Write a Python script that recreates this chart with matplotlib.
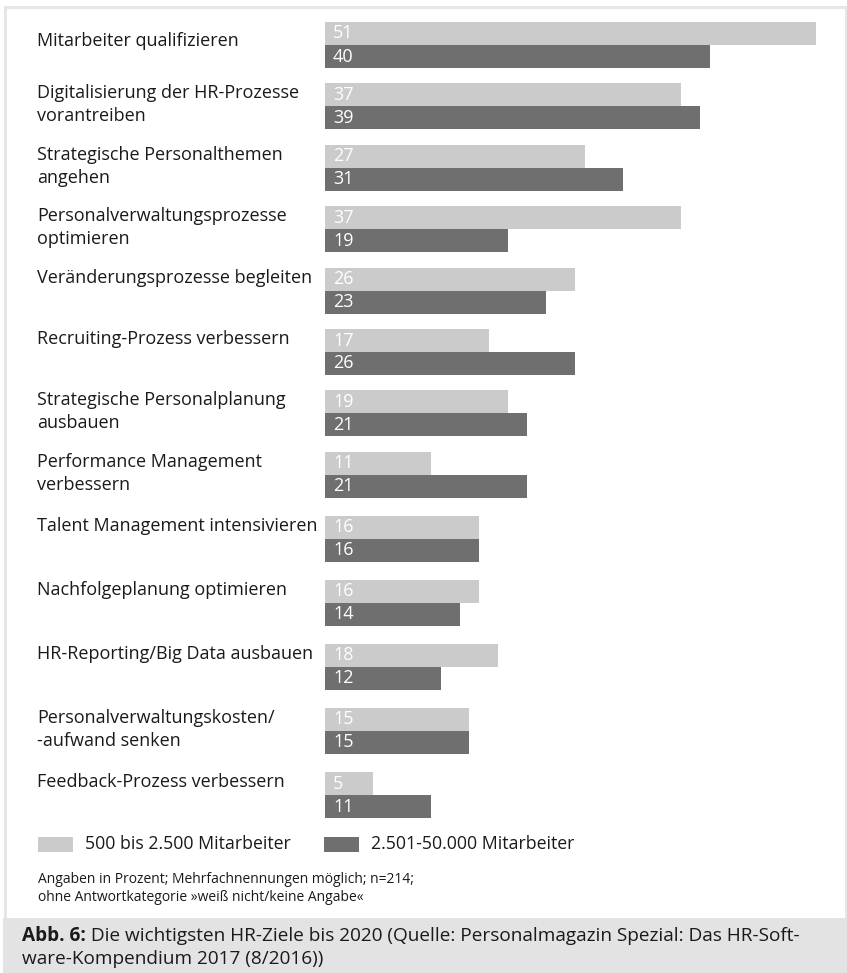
import numpy as np
import matplotlib
matplotlib.use('Agg')
import matplotlib.pyplot as plt
from matplotlib.patches import Rectangle
from matplotlib.transforms import Affine2D

# Daten
ziele = ['Mitarbeiter qualifizieren',
         'Digitalisierung der HR-Prozesse\nvorantreiben',
         'Strategische Personalthemen\nangehen',
         'Personalverwaltungsprozesse\noptimieren',
         'Veränderungsprozesse begleiten',
         'Recruiting-Prozess verbessern',
         'Strategische Personalplanung\nausbauen',
         'Performance Management\nverbessern',
         'Talent Management intensivieren',
         'Nachfolgeplanung optimieren',
         'HR-Reporting/Big Data ausbauen',
         'Personalverwaltungskosten/\n-aufwand senken',
         'Feedback-Prozess verbessern']
klein = [51, 37, 27, 37, 26, 17, 19, 11, 16, 16, 18, 15, 5]
gross = [40, 39, 31, 19, 23, 26, 21, 21, 16, 14, 12, 15, 11]
serien = ['500 bis 2.500 Mitarbeiter', '2.501-50.000 Mitarbeiter']
fussnote = ['Angaben in Prozent; Mehrfachnennungen möglich; n=214;',
            'ohne Antwortkategorie »weiß nicht/keine Angabe«']
titel_fett = 'Abb. 6:'
titel = [' Die wichtigsten HR-Ziele bis 2020 (Quelle: Personalmagazin Spezial: Das HR-Soft-',
         'ware-Kompendium 2017 (8/2016))']

W, H = 847, 973
plt.rcParams['font.family'] = ['Open Sans', 'DejaVu Sans']
hell = '#cbcbcb'
dunkel = '#6f6f6f'
txt = '#1a1a1a'

fig = plt.figure(figsize=(W / 100, H / 100), dpi=100)
# Pixelkoordinaten (von oben)
px = Affine2D().scale(1 / W, -1 / H).translate(0, 1) + fig.transFigure

# Rahmen + Bildunterschrift
fig.patches.append(Rectangle((4.5, 6.5), 841, 912, transform=px, fill=False,
                             edgecolor='#e6e6e6', lw=2.2))
fig.patches.append(Rectangle((3, 918), 844, 55, transform=px,
                             facecolor='#e3e3e3', edgecolor='none'))

x0 = 325            # Pixel fuer 0 %
skala = 491 / 51    # Pixel pro Prozentpunkt
bh = 23

# Gruppenabstaende: oben etwas enger als unten
n = len(ziele)
idx = np.arange(n)
abstand = np.where(idx[1:] <= 7, 61.4, 64.05)
tops = 22 + np.concatenate([[0], np.cumsum(abstand)])

ax = fig.add_axes([0, 0, 1, 1])
ax.set_xlim(-x0 / skala, (W - x0) / skala)
ax.set_ylim(H, 0)
ax.axis('off')

ax.barh(tops + bh / 2, klein, height=bh, color=hell, label=serien[0])
ax.barh(tops + 1.5 * bh, gross, height=bh, color=dunkel, label=serien[1])

for t, a, b in zip(tops, klein, gross):
    ax.text(8 / skala, t + bh / 2, str(a), color='white', fontsize=13, va='center')
    ax.text(8 / skala, t + 1.5 * bh, str(b), color='white', fontsize=13, va='center')

for i, (t, lab) in enumerate(zip(tops, ziele)):
    base = t + 15
    if i == 0:
        base += 9
    for j, line in enumerate(lab.split('\n')):
        fig.text(37, base + 23 * j, line, transform=px, fontsize=13,
                 color=txt, va='baseline')

# Legende
for k, (name, col) in enumerate(zip(serien, [hell, dunkel])):
    lx = 38 + 286 * k
    fig.patches.append(Rectangle((lx, 837), 35, 15, transform=px,
                                 facecolor=col, edgecolor='none'))
    fig.text(lx + 47, 849, name, transform=px, fontsize=12.8, color=txt, va='baseline')

for j, line in enumerate(fussnote):
    fig.text(38, 883 + 18 * j, line, transform=px, fontsize=10, color=txt,
             va='baseline')

t1 = fig.text(22, 941, titel_fett, transform=px, fontsize=13.7, color=txt,
              va='baseline', fontweight='bold')
fig.canvas.draw()
bb = t1.get_window_extent()
fig.text(bb.x1 / W, 1 - 941 / H, titel[0], fontsize=13.7, color=txt, va='baseline')
fig.text(22, 964, titel[1], transform=px, fontsize=13.7, color=txt, va='baseline')

fig.savefig('out.png', dpi=100)
